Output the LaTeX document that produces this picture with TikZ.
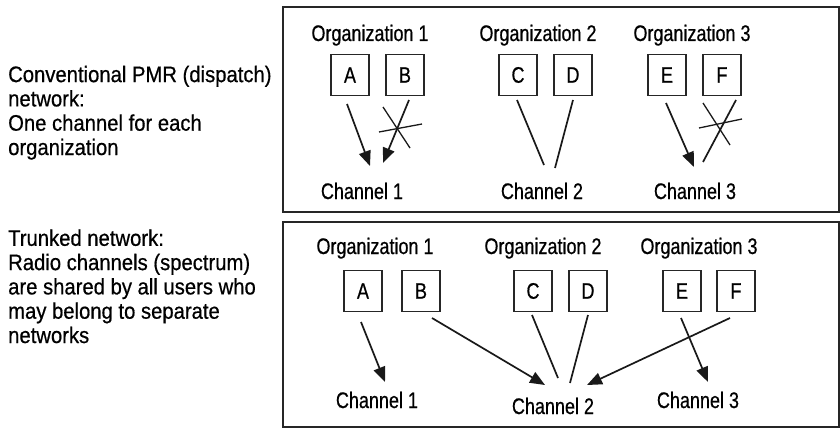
\documentclass[tikz,border=0pt]{standalone}
\usepackage{fontspec}
\setmainfont{Liberation Sans}
\newfontfamily\orgfont[FakeStretch=0.8,FakeBold=0.6]{Liberation Sans}
\newfontfamily\sidefont[FakeStretch=0.9,FakeBold=0.6]{Liberation Sans}
\usetikzlibrary{arrows.meta}
\tikzset{
  frame/.style={draw=black!85, line width=2pt},
  unitbox/.style={draw=black!85, line width=1.5pt, minimum width=38pt, minimum height=41pt, inner sep=0pt, font=\orgfont\fontsize{22.5}{24}\selectfont},
  lbl/.style={anchor=base, inner sep=0pt, font=\orgfont\fontsize{22.5}{24}\selectfont},
  side/.style={anchor=base west, inner sep=0pt, align=left, font=\sidefont\fontsize{22.5}{24.3}\selectfont},
  link/.style={draw=black!90, line width=1.7pt},
  arr/.style={link, -{Triangle[length=15pt,width=12pt]}},
  cross/.style={draw=black!90, line width=1.3pt}
}
\begin{document}
\begin{tikzpicture}[x=1pt,y=-1pt]
\useasboundingbox (0,0) rectangle (840,428);
% frames
\draw[frame] (283,7) rectangle (839,212);
\draw[frame] (283,222) rectangle (839,427);
% side texts
\node[side] (t1) at (8,155) {Conventional PMR (dispatch)\\network:\\One channel for each\\organization};
\node[side] (t2) at (8,343) {Trunked network:\\Radio channels (spectrum)\\are shared by all users who\\may belong to separate\\networks};
% ---- top panel ----
\node[lbl] (o1) at (370,41) {Organization 1};
\node[lbl] (o2) at (538,41) {Organization 2};
\node[lbl] (o3) at (692,41) {Organization 3};
\node[unitbox] (A) at (350,75) {A};
\node[unitbox] (B) at (405,75) {B};
\node[unitbox] (C) at (518,75) {C};
\node[unitbox] (D) at (573,75) {D};
\node[unitbox] (E) at (667,75) {E};
\node[unitbox] (F) at (722,75) {F};
\node[lbl] (ch1) at (362,199) {Channel 1};
\node[lbl] (ch2) at (542,199) {Channel 2};
\node[lbl] (ch3) at (695,199) {Channel 3};
\coordinate (sA) at (347,104); \coordinate (eA) at (370,166);
\coordinate (sB) at (409,100); \coordinate (eB) at (383,163);
\coordinate (sC) at (517,100); \coordinate (eC) at (544,165);
\coordinate (sD) at (573,100); \coordinate (eD) at (555,168);
\coordinate (sE) at (666,103); \coordinate (eE) at (694,167);
\coordinate (sF) at (736,100); \coordinate (eF) at (703,162);
\draw[arr] (sA) -- (eA);
\draw[arr] (sB) -- (eB);
\draw[link] (sC) -- (eC);
\draw[link] (sD) -- (eD);
\draw[arr] (sE) -- (eE);
\draw[link] (sF) -- (eF);
\coordinate (xb1) at (383,107); \coordinate (xb2) at (410,148);
\coordinate (xb3) at (379,132); \coordinate (xb4) at (422,124);
\draw[cross] (xb1) -- (xb2);
\draw[cross] (xb3) -- (xb4);
\coordinate (xf1) at (703,103); \coordinate (xf2) at (730,145);
\coordinate (xf3) at (699,128); \coordinate (xf4) at (742,119);
\draw[cross] (xf1) -- (xf2);
\draw[cross] (xf3) -- (xf4);
% ---- bottom panel ----
\node[lbl] (p1) at (375,254) {Organization 1};
\node[lbl] (p2) at (543,254) {Organization 2};
\node[lbl] (p3) at (699,254) {Organization 3};
\node[unitbox] (A2) at (363,291) {A};
\node[unitbox] (B2) at (421,291) {B};
\node[unitbox] (C2) at (533,291) {C};
\node[unitbox] (D2) at (588,291) {D};
\node[unitbox] (E2) at (682,291) {E};
\node[unitbox] (F2) at (736,291) {F};
\node[lbl] (k1) at (377,408) {Channel 1};
\node[lbl] (k2) at (553,414) {Channel 2};
\node[lbl] (k3) at (698,408) {Channel 3};
\coordinate (sA2) at (361,322); \coordinate (eA2) at (385,382);
\coordinate (sB2) at (432,318); \coordinate (eB2) at (545,385);
\coordinate (sC2) at (532,315); \coordinate (eC2) at (558,378);
\coordinate (sD2) at (588,315); \coordinate (eD2) at (570,383);
\coordinate (sE2) at (681,318); \coordinate (eE2) at (708,382);
\coordinate (sF2) at (730,318); \coordinate (eF2) at (587,385);
\draw[arr] (sA2) -- (eA2);
\draw[arr] (sB2) -- (eB2);
\draw[link] (sC2) -- (eC2);
\draw[link] (sD2) -- (eD2);
\draw[arr] (sE2) -- (eE2);
\draw[arr] (sF2) -- (eF2);
\end{tikzpicture}
\end{document}
